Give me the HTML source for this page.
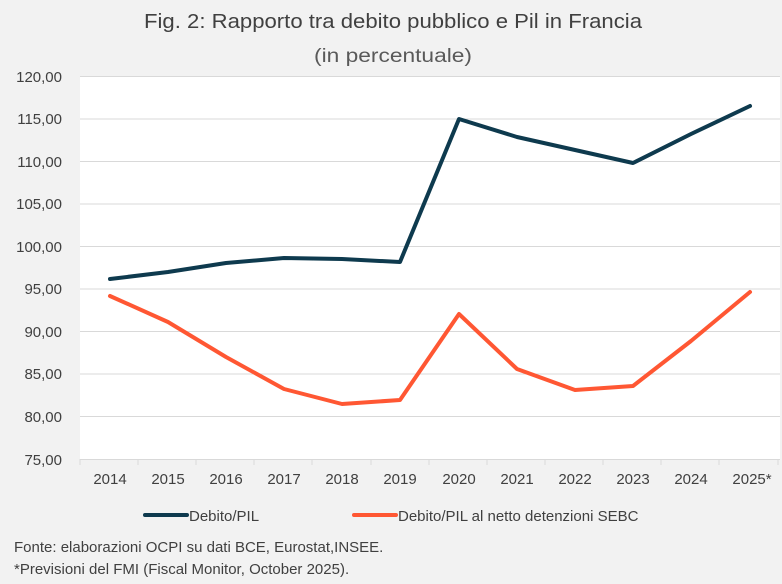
<!DOCTYPE html>
<html><head><meta charset="utf-8"><style>
body{margin:0;width:782px;height:579px;background:#f2f2f2;overflow:hidden;font-family:"Liberation Sans",sans-serif;}
</style></head><body>
<svg width="782" height="579" xmlns="http://www.w3.org/2000/svg" font-family="Liberation Sans, sans-serif">
<rect x="0" y="0" width="782" height="579" fill="#f2f2f2"/>
<text x="393" y="28" text-anchor="middle" font-size="20" fill="#404040" textLength="498" lengthAdjust="spacingAndGlyphs">Fig. 2: Rapporto tra debito pubblico e Pil in Francia</text>
<text x="393" y="62" text-anchor="middle" font-size="19" fill="#595959" textLength="158" lengthAdjust="spacingAndGlyphs">(in percentuale)</text>
<rect x="80" y="77" width="700" height="383" fill="#fff"/>
<g stroke="#d9d9d9" stroke-width="1">
<line x1="80" x2="780" y1="76.5" y2="76.5"/><line x1="80" x2="780" y1="119" y2="119"/><line x1="80" x2="780" y1="161.5" y2="161.5"/><line x1="80" x2="780" y1="204" y2="204"/><line x1="80" x2="780" y1="246.5" y2="246.5"/><line x1="80" x2="780" y1="289" y2="289"/><line x1="80" x2="780" y1="331.5" y2="331.5"/><line x1="80" x2="780" y1="374" y2="374"/><line x1="80" x2="780" y1="416.5" y2="416.5"/><line x1="80" x2="780" y1="459.5" y2="459.5"/>
</g>
<g stroke="#d9d9d9">
<line x1="80" x2="80" y1="459" y2="465"/><line x1="138" x2="138" y1="459" y2="465"/><line x1="196" x2="196" y1="459" y2="465"/><line x1="254" x2="254" y1="459" y2="465"/><line x1="312" x2="312" y1="459" y2="465"/><line x1="371" x2="371" y1="459" y2="465"/><line x1="429" x2="429" y1="459" y2="465"/><line x1="487" x2="487" y1="459" y2="465"/><line x1="545" x2="545" y1="459" y2="465"/><line x1="603" x2="603" y1="459" y2="465"/><line x1="661" x2="661" y1="459" y2="465"/><line x1="719" x2="719" y1="459" y2="465"/><line x1="778" x2="778" y1="459" y2="465"/>
</g>
<g font-size="15" fill="#404040" text-anchor="end">
<text x="62" y="82">120,00</text><text x="62" y="124">115,00</text><text x="62" y="167">110,00</text><text x="62" y="209">105,00</text><text x="62" y="252">100,00</text><text x="62" y="294">95,00</text><text x="62" y="337">90,00</text><text x="62" y="379">85,00</text><text x="62" y="422">80,00</text><text x="62" y="465">75,00</text>
</g>
<g font-size="15" fill="#404040" text-anchor="middle">
<text x="110" y="484">2014</text><text x="168" y="484">2015</text><text x="226" y="484">2016</text><text x="284" y="484">2017</text><text x="342" y="484">2018</text><text x="400" y="484">2019</text><text x="459" y="484">2020</text><text x="517" y="484">2021</text><text x="575" y="484">2022</text><text x="633" y="484">2023</text><text x="691" y="484">2024</text><text x="752" y="484">2025*</text>
</g>
<polyline fill="none" stroke="#0e3a4e" stroke-width="4" stroke-linejoin="round" stroke-linecap="round"
points="110,279 168,272 226,263 284,258 342,259 400,262 459,119 517,137 575,150 633,163 691,134 750,106"/>
<polyline fill="none" stroke="#ff5733" stroke-width="4" stroke-linejoin="round" stroke-linecap="round"
points="110,296 168,322 226,357 284,389 342,404 400,400 459,314 517,369 575,390 633,386 691,341 750,292"/>
<line x1="145" x2="187" y1="515" y2="515" stroke="#0e3a4e" stroke-width="4" stroke-linecap="round"/>
<text x="189" y="521" font-size="15" fill="#404040">Debito/PIL</text>
<line x1="354" x2="396" y1="515" y2="515" stroke="#ff5733" stroke-width="4" stroke-linecap="round"/>
<text x="398" y="521" font-size="15" fill="#404040">Debito/PIL al netto detenzioni SEBC</text>
<text x="14" y="552" font-size="15" fill="#404040">Fonte: elaborazioni OCPI su dati BCE, Eurostat,INSEE.</text>
<text x="14" y="574" font-size="15" fill="#404040">*Previsioni  del FMI (Fiscal Monitor, October 2025).</text>
</svg>
</body></html>
